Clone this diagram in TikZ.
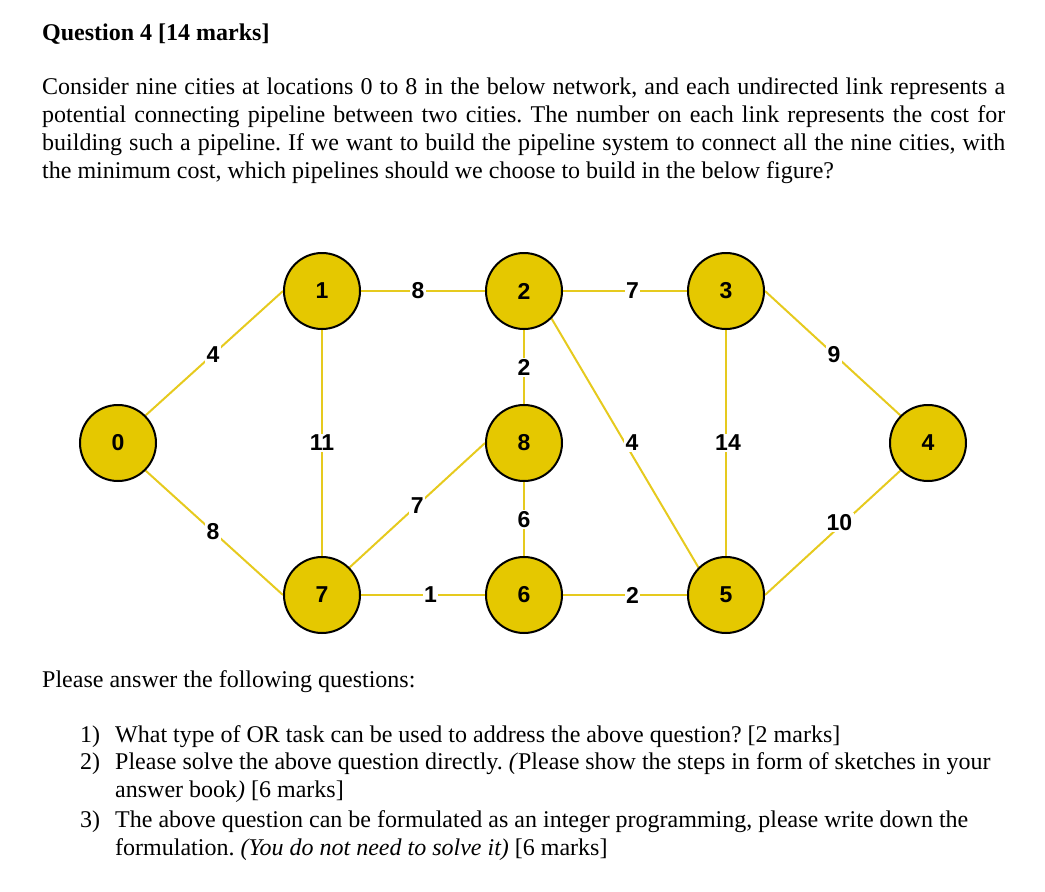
\documentclass[tikz,border=0pt]{standalone}
\usepackage{fontspec}
\setmainfont{Liberation Serif}
\newfontfamily\lblfont{Liberation Sans}
\usetikzlibrary{backgrounds}
\definecolor{nodeyellow}{RGB}{229,200,0}
\definecolor{edgeyellow}{RGB}{230,202,30}
\frenchspacing
\begin{document}
\begin{tikzpicture}[x=1pt,y=-1pt,
  city/.style={circle, draw=black, line width=2pt, fill=nodeyellow, minimum size=76pt, inner sep=0pt,
    font=\lblfont\bfseries\fontsize{23}{23}\selectfont},
  link/.style={draw=edgeyellow, line width=2pt},
  cost/.style={fill=white, inner sep=1.5pt, font=\lblfont\bfseries\fontsize{23}{23}\selectfont},
  txt/.style={anchor=base west, inner sep=0pt, font=\fontsize{24}{28.5}\selectfont}]
\useasboundingbox (0,0) rectangle (1045,892);

% texts
\node[txt, font=\fontsize{24}{28.5}\selectfont\bfseries] (title) at (42,40) {Question 4 [14 marks]};
\node[txt] (p1) at (42,94) {\makebox[963pt][s]{Consider nine cities at locations 0 to 8 in the below network, and each undirected link represents a}};
\node[txt] (p2) at (42,122) {\makebox[963pt][s]{potential connecting pipeline between two cities. The number on each link represents the cost for}};
\node[txt] (p3) at (42,150) {\makebox[963pt][s]{building such a pipeline. If we want to build the pipeline system to connect all the nine cities, with}};
\node[txt] (p4) at (42,178) {the minimum cost, which pipelines should we choose to build in the below figure?};

\node[txt] (pa) at (42,687) {Please answer the following questions:};
\node[txt] (n1) at (80,742) {1)};
\node[txt] (q1) at (115,742) {What type of OR task can be used to address the above question? [2 marks]};
\node[txt] (n2) at (80,769) {2)};
\node[txt] (q2a) at (115,769) {Please solve the above question directly. \textit{(}Please show the steps in form of sketches in your};
\node[txt] (q2b) at (115,797) {answer book\textit{)} [6 marks]};
\node[txt] (n3) at (80,827) {3)};
\node[txt] (q3a) at (115,827) {The above question can be formulated as an integer programming, please write down the};
\node[txt] (q3b) at (115,855) {formulation. \textit{(You do not need to solve it)} [6 marks]};

% cities
\node[city] (c0) at (118,443) {0};
\node[city] (c1) at (322,291) {1};
\node[city] (c2) at (524,291) {2};
\node[city] (c3) at (726,291) {3};
\node[city] (c4) at (928,443) {4};
\node[city] (c8) at (524,443) {8};
\node[city] (c7) at (322,595) {7};
\node[city] (c6) at (524,595) {6};
\node[city] (c5) at (726,595) {5};

\begin{scope}[on background layer]
\draw[link] (c0.north east) -- node[cost,pos=0.49]{4} (c1.west);
\draw[link] (c0.south east) -- node[cost,pos=0.49]{8} (c7.west);
\draw[link] (c1.east) -- node[cost,pos=0.46]{8} (c2.west);
\draw[link] (c2.east) -- node[cost,pos=0.56]{7} (c3.west);
\draw[link] (c1.south) -- node[cost,pos=0.5]{11} (c7.north);
\draw[link] (c2.south) -- node[cost,pos=0.51]{2} (c8.north);
\draw[link] (c2.south east) -- node[cost,pos=0.5,xshift=7pt]{4} (c5.north west);
\draw[link] (c3.south) -- node[cost,pos=0.5,xshift=2pt]{14} (c5.north);
\draw[link] (c3.east) -- node[cost,pos=0.51]{9} (c4.north west);
\draw[link] (c4.south west) -- node[cost,pos=0.45,yshift=4pt]{10} (c5.east);
\draw[link] (c7.north east) -- node[cost,pos=0.5]{7} (c8.west);
\draw[link] (c8.south) -- node[cost,pos=0.51]{6} (c6.north);
\draw[link] (c7.east) -- node[cost,pos=0.56]{1} (c6.west);
\draw[link] (c6.east) -- node[cost,pos=0.56]{2} (c5.west);
\end{scope}
\end{tikzpicture}
\end{document}
